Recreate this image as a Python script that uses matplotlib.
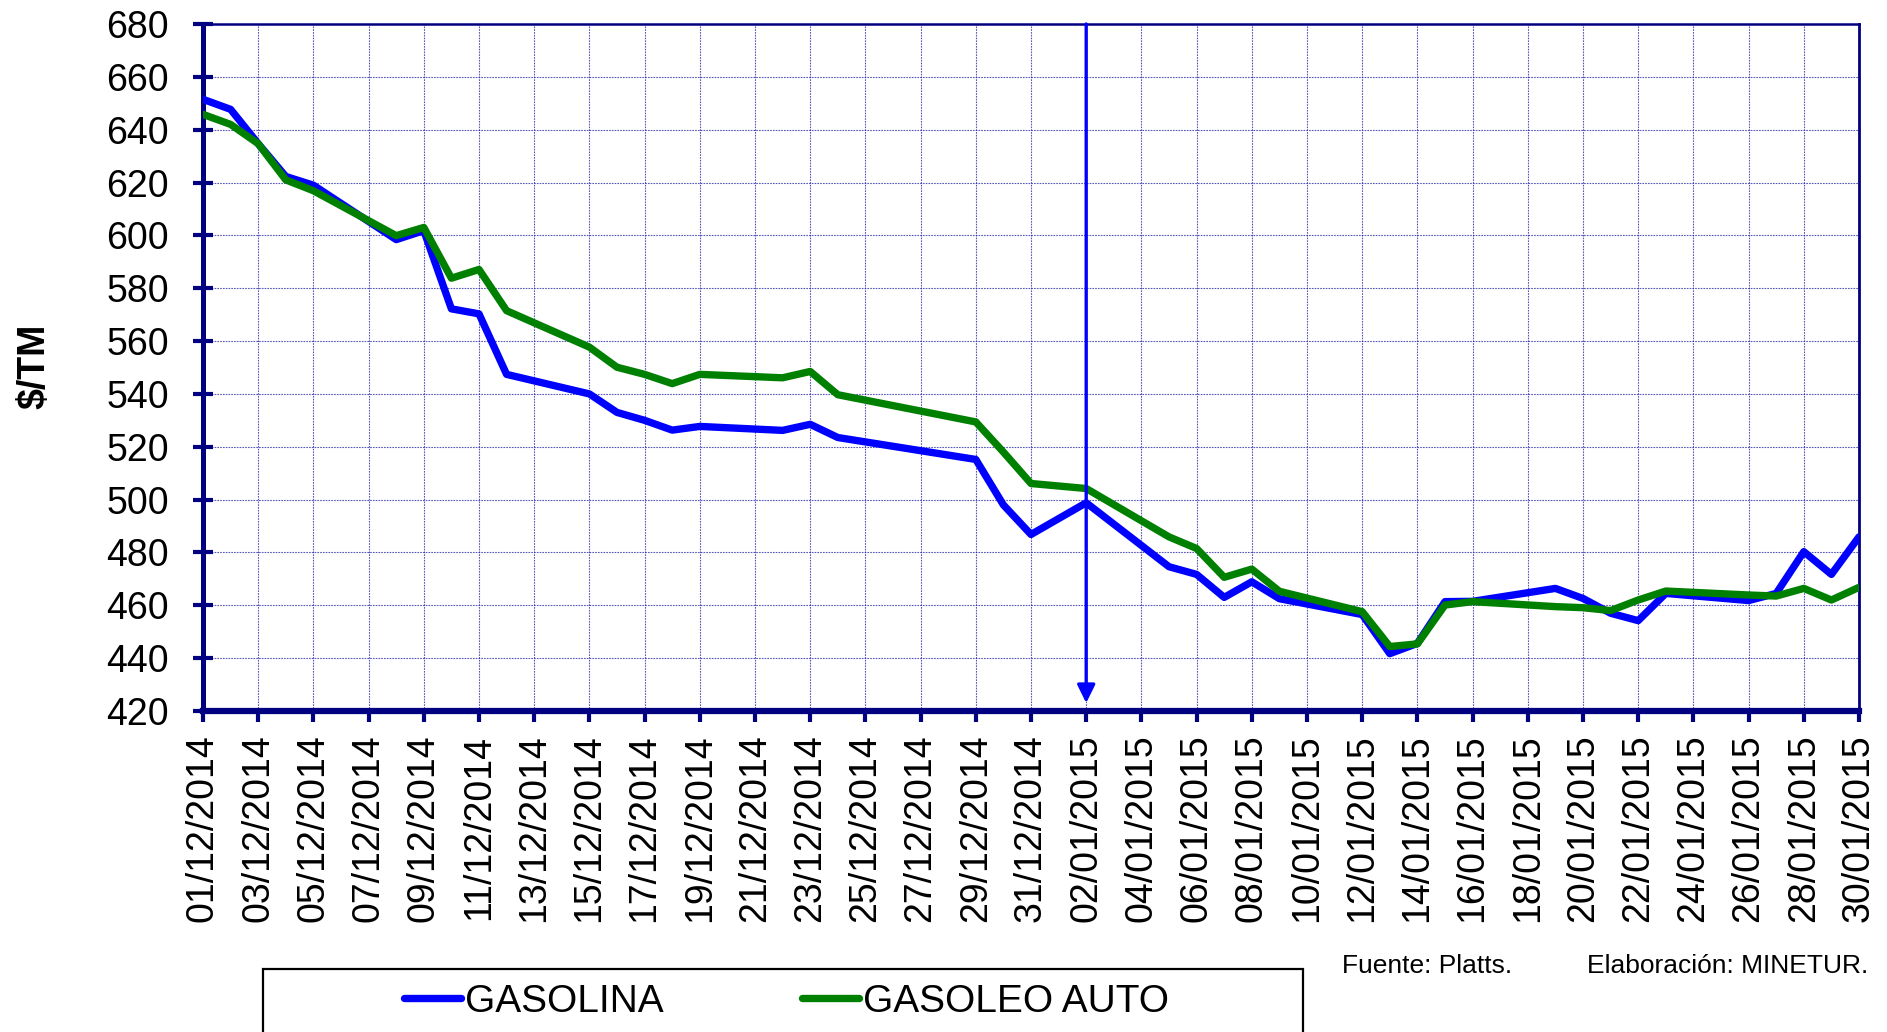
import pandas as pd
import matplotlib
matplotlib.use("Agg")
import matplotlib.pyplot as plt
import matplotlib.dates as mdates
from matplotlib.patches import Rectangle

plt.rcParams['font.family'] = ['Liberation Sans', 'DejaVu Sans']

# fechas con cotizacion (dias laborables)
fechas = ["01/12/2014", "02/12/2014", "03/12/2014", "04/12/2014", "05/12/2014",
          "08/12/2014", "09/12/2014", "10/12/2014", "11/12/2014", "12/12/2014",
          "15/12/2014", "16/12/2014", "17/12/2014", "18/12/2014", "19/12/2014",
          "22/12/2014", "23/12/2014", "24/12/2014", "29/12/2014", "30/12/2014",
          "31/12/2014", "02/01/2015", "05/01/2015", "06/01/2015", "07/01/2015",
          "08/01/2015", "09/01/2015", "12/01/2015", "13/01/2015", "14/01/2015",
          "15/01/2015", "16/01/2015", "19/01/2015", "20/01/2015", "21/01/2015",
          "22/01/2015", "23/01/2015", "26/01/2015", "27/01/2015", "28/01/2015",
          "29/01/2015", "30/01/2015"]

gasolina = [651.5, 647.7, 634.7, 622.3, 619.0, 598.4, 601.8, 572.2, 570.3, 547.4,
            540.0, 533.0, 530.0, 526.3, 527.7, 526.2, 528.5, 523.5, 515.2, 498.0,
            486.8, 498.8, 474.6, 471.7, 463.0, 468.9, 462.5, 456.5, 441.7, 445.6,
            461.4, 461.5, 466.4, 462.6, 457.0, 454.2, 464.5, 461.8, 464.5, 480.3,
            471.7, 485.9]

gasoleo = [645.8, 642.0, 634.7, 621.0, 616.9, 599.9, 603.0, 583.8, 587.1, 571.5,
           557.7, 550.1, 547.4, 543.9, 547.4, 546.1, 548.5, 539.7, 529.4, 518.0,
           506.1, 504.2, 485.9, 481.5, 470.6, 473.7, 465.3, 457.6, 444.4, 445.4,
           460.1, 461.4, 459.5, 459.1, 458.0, 462.0, 465.4, 463.9, 463.5, 466.4,
           462.0, 466.8]

fecha_flecha = "02/01/2015"
y_min, y_max = 420, 680

x = pd.to_datetime(fechas, dayfirst=True)
navy = '#000080'

fig = plt.figure(figsize=(18.87, 10.32), dpi=100)
ax = fig.add_axes([203/1887, 1 - 711/1032, (1859 - 203)/1887, (711 - 24)/1032])

l1, = ax.plot(x, gasolina, color='#0000ff', lw=5.3, solid_joinstyle='round',
              solid_capstyle='round', label='GASOLINA', zorder=3)
l2, = ax.plot(x, gasoleo, color='#008000', lw=5.3, solid_joinstyle='round',
              solid_capstyle='round', label='GASOLEO AUTO', zorder=4)

xa = pd.to_datetime(fecha_flecha, dayfirst=True)
ax.annotate('', xy=(xa, 423), xytext=(xa, y_max),
            arrowprops=dict(arrowstyle='-|>,head_length=0.55,head_width=0.27',
                            color='#0000ff', lw=2.4, mutation_scale=20,
                            shrinkA=0, shrinkB=0), zorder=5)

ax.set_xlim(x[0], x[-1])
ax.set_ylim(y_min, y_max)
ax.set_yticks(range(y_min, y_max + 1, 20))
ax.set_xticks(pd.date_range(x[0], x[-1], freq='2D'))
ax.xaxis.set_major_formatter(mdates.DateFormatter('%d/%m/%Y'))

ax.grid(True, color='#2020a0', ls=(0, (1.5, 1)), lw=0.8, alpha=0.75)
ax.set_axisbelow(True)

for side, w in [('left', 3.6), ('bottom', 4.5), ('top', 1.8), ('right', 2.0)]:
    ax.spines[side].set_color(navy)
    ax.spines[side].set_linewidth(w)

ax.tick_params(axis='y', direction='inout', length=15, width=3, color=navy,
               labelsize=27, pad=17)
ax.tick_params(axis='x', direction='out', length=8, width=3, color=navy,
               labelsize=27, pad=9, labelrotation=90)

fig.text(34/1887, 1 - 366/1032, '$/TM', rotation=90, fontsize=27,
         fontweight='bold', ha='center', va='center')

fig.text(1342/1887, 1 - 966/1032, 'Fuente: Platts.', fontsize=19,
         ha='left', va='center')
fig.text(1868/1887, 1 - 966/1032, 'Elaboración: MINETUR.', fontsize=19,
         ha='right', va='center')

# marco de la leyenda (cortado por el borde inferior)
fig.patches.append(Rectangle((263/1887, -0.2), 1040/1887, 0.2 + (1032 - 969)/1032,
                             transform=fig.transFigure, fill=False,
                             ec='black', lw=1.6))
fig.legend(handles=[l1, l2], loc='center', bbox_to_anchor=(786.5/1887, 1 - 1002/1032),
           ncol=2, frameon=False, fontsize=28, handlelength=1.46,
           handletextpad=0.1, columnspacing=3.57)

plt.savefig("out.png", dpi=100)
